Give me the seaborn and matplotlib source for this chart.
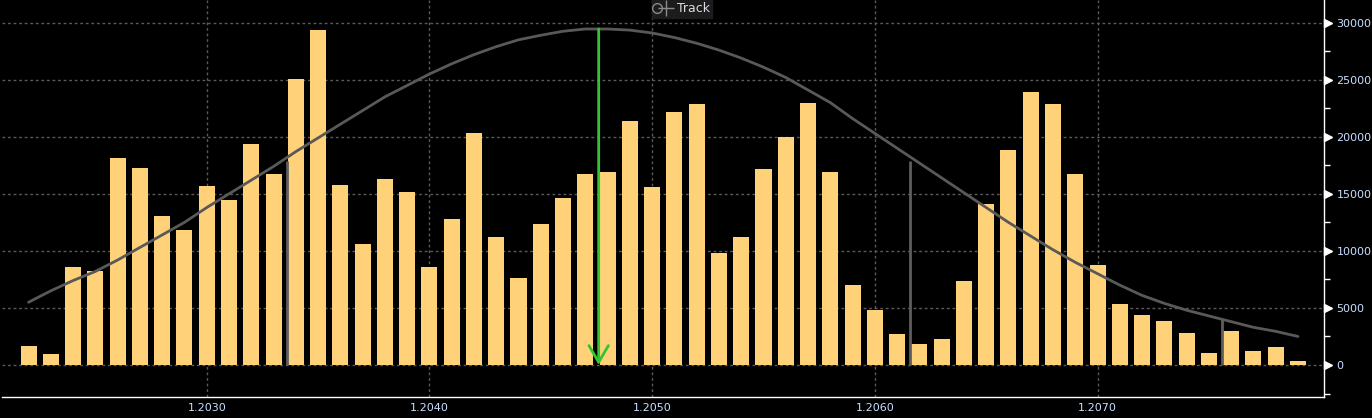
import numpy as np
import pandas as pd
import matplotlib
matplotlib.use("Agg")
import matplotlib.pyplot as plt
import matplotlib.transforms as mtransforms
from matplotlib.lines import Line2D
from matplotlib.legend_handler import HandlerTuple
import seaborn as sns

# price levels (one bar per pip)
prices = [1.2022, 1.2023, 1.2024, 1.2025, 1.2026, 1.2027, 1.2028, 1.2029,
          1.2030, 1.2031, 1.2032, 1.2033, 1.2034, 1.2035, 1.2036, 1.2037,
          1.2038, 1.2039, 1.2040, 1.2041, 1.2042, 1.2043, 1.2044, 1.2045,
          1.2046, 1.2047, 1.2048, 1.2049, 1.2050, 1.2051, 1.2052, 1.2053,
          1.2054, 1.2055, 1.2056, 1.2057, 1.2058, 1.2059, 1.2060, 1.2061,
          1.2062, 1.2063, 1.2064, 1.2065, 1.2066, 1.2067, 1.2068, 1.2069,
          1.2070, 1.2071, 1.2072, 1.2073, 1.2074, 1.2075, 1.2076, 1.2077,
          1.2078, 1.2079]

volume = [1650, 1000, 8600, 8250, 18100, 17300, 13100, 11800,
          15700, 14500, 19400, 16700, 25100, 29400, 15800, 10600,
          16300, 15200, 8600, 12800, 20300, 11200, 7600, 12400,
          14600, 16700, 16900, 21400, 15600, 22200, 22900, 9800,
          11200, 17200, 20000, 23000, 16900, 7000, 4800, 2700,
          1850, 2300, 7400, 14100, 18800, 23900, 22900, 16700,
          8800, 5350, 4400, 3850, 2800, 1050, 3000, 1200,
          1600, 350]

# fitted curve read at each price level
curve = [5500, 6500, 7400, 8200, 9200, 10300, 11400, 12500,
         13800, 15000, 16200, 17400, 18700, 19900, 21100, 22300,
         23500, 24500, 25500, 26400, 27200, 27900, 28500, 28900,
         29250, 29450, 29450, 29350, 29100, 28700, 28200, 27600,
         26900, 26100, 25200, 24100, 23000, 21600, 20300, 19000,
         17700, 16400, 15100, 13800, 12500, 11300, 10100, 9000,
         8000, 7000, 6100, 5400, 4800, 4300, 3800, 3300,
         2950, 2500]

# marker lines (sigma levels) and the mean arrow
marker_x = [1.20336, 1.20616, 1.20756]
marker_top = [17900, 17900, 4000]
mean_x = 1.20476
mean_top = 29450

xtick_vals = [1.2030, 1.2040, 1.2050, 1.2060, 1.2070]
ytick_vals = [0, 5000, 10000, 15000, 20000, 25000, 30000]

df = pd.DataFrame({"price": prices, "volume": volume, "curve": curve})

sns.set_theme(style="dark")
bg = "#000000"
label_col = "#c8e0ff"

fig = plt.figure(figsize=(13.72, 4.18), dpi=100, facecolor=bg)
ax = fig.add_axes([2 / 1372, 21 / 418, 1322 / 1372, 397 / 418])
ax.set_facecolor(bg)

sns.barplot(data=df, x="price", y="volume", native_scale=True, width=0.72,
            color="#ffd27a", saturation=1, linewidth=0, ax=ax, zorder=3)
sns.lineplot(data=df, x="price", y="curve", color="#595959", lw=2, ax=ax, zorder=4)

ax.vlines(marker_x, 0, marker_top, color="#5e5e5e", lw=2, zorder=5)
ax.annotate("", xy=(mean_x, 0), xytext=(mean_x, mean_top),
            arrowprops=dict(arrowstyle="->,head_length=0.6,head_width=0.35",
                            color="#33c433", lw=2, shrinkA=0, shrinkB=0,
                            mutation_scale=20), zorder=6)

ax.set_xlim(1.2020808, 1.2080168)
ax.set_ylim(-2805, 31990)

ax.set_xticks(xtick_vals)
ax.set_xticklabels([f"{v:.4f}" for v in xtick_vals])
ax.set_yticks(ytick_vals)
ax.set_yticklabels([str(v) for v in ytick_vals])
ax.set_yticks([-2500, 2500, 7500, 12500, 17500, 22500, 27500], minor=True)

ax.yaxis.tick_right()
ax.tick_params(axis="y", which="major", length=0, pad=9, labelsize=8,
               labelcolor=label_col)
ax.tick_params(axis="y", which="minor", length=4, width=1, color="white",
               right=True, left=False)
ax.tick_params(axis="x", length=0, pad=4, labelsize=8, labelcolor=label_col)

# triangular tick markers on the right
trans = mtransforms.blended_transform_factory(ax.transAxes, ax.transData)
ax.plot([1.0033] * len(ytick_vals), ytick_vals, ls="", marker=">", ms=6,
        color="white", transform=trans, clip_on=False, zorder=7)

ax.grid(True, which="major", color="#5a5a5a", lw=1, linestyle=(0, (2, 2)))
ax.set_axisbelow(True)

for side in ["left", "top"]:
    ax.spines[side].set_visible(False)
for side in ["right", "bottom"]:
    ax.spines[side].set_visible(True)
    ax.spines[side].set_color("white")
    ax.spines[side].set_linewidth(1)

ax.set_xlabel("")
ax.set_ylabel("")

h1 = Line2D([], [], ls="", marker="o", ms=7, mfc="none", mec="#8a8a8a", mew=1)
h2 = Line2D([], [], ls="", marker="+", ms=12, mec="#8a8a8a", mew=1)
leg = fig.legend([(h1, h2)], ["Track"], handler_map={tuple: HandlerTuple(ndivide=None)},
                 loc="upper center", bbox_to_anchor=(0.497, 1.0), fontsize=9,
                 frameon=True, facecolor="#1c1c1c", edgecolor="#1c1c1c",
                 framealpha=1, fancybox=False, handlelength=1.2,
                 handletextpad=0.6, borderpad=0.2, borderaxespad=0)
for t in leg.get_texts():
    t.set_color("#d8dee6")

fig.savefig("out.png", dpi=100, facecolor=bg)
